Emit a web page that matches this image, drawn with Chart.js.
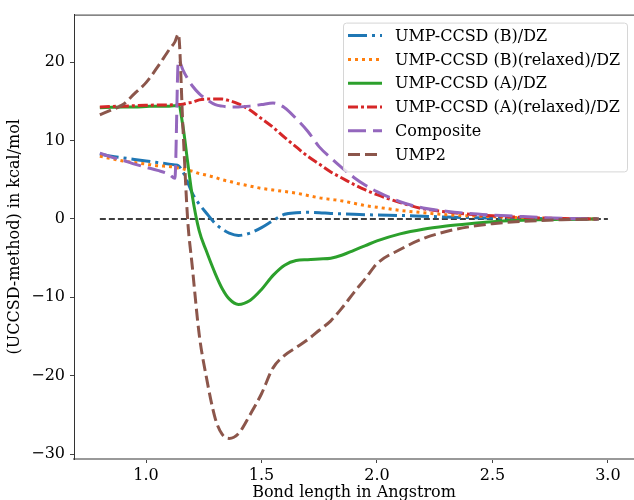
<!DOCTYPE html>
<html>
<head>
<meta charset="utf-8">
<script src="https://cdn.jsdelivr.net/npm/chart.js@4/dist/chart.umd.min.js"></script>
<style>
  body { margin: 0; background: #fff; }
  #wrap { width: 634px; height: 500px; }
</style>
</head>
<body>
<div id="wrap"><canvas id="chart" width="634" height="500"></canvas></div>
<script>
// bond lengths (Angstrom) shared by all curves
const bondLength = [0.80, 0.85, 0.90, 0.95, 1.00, 1.05, 1.10, 1.125, 1.14, 1.16, 1.18, 1.20,
    1.23, 1.26, 1.30, 1.33, 1.36, 1.40, 1.45, 1.50, 1.55, 1.60, 1.65, 1.70, 1.75, 1.80,
    1.85, 1.90, 1.95, 2.00, 2.10, 2.20, 2.30, 2.40, 2.50, 2.60, 2.70, 2.80, 2.90, 2.96];

// (UCCSD - method) in kcal/mol
const ccsdB = [8.3, 8.0, 7.8, 7.6, 7.4, 7.2, 7.0, 6.9, 6.8, 6.0, 4.7, 3.3,
    1.9, 0.8, -0.6, -1.3, -1.8, -2.1, -1.8, -1.1, -0.2, 0.6, 0.8, 0.85, 0.8, 0.7,
    0.65, 0.6, 0.55, 0.5, 0.45, 0.35, 0.25, 0.18, 0.12, 0.08, 0.05, 0.02, 0.0, 0.0];
const ccsdBRelaxed = [8.0, 7.7, 7.4, 7.2, 7.0, 6.8, 6.7, 6.6, 6.5, 6.4, 6.2, 6.1,
    5.8, 5.6, 5.3, 5.0, 4.8, 4.5, 4.2, 3.9, 3.7, 3.5, 3.3, 3.0, 2.7, 2.5,
    2.3, 2.0, 1.7, 1.5, 1.1, 0.8, 0.55, 0.4, 0.3, 0.2, 0.12, 0.06, 0.02, 0.0];
const ccsdA = [14.2, 14.25, 14.3, 14.3, 14.35, 14.4, 14.4, 14.45, 14.5, 11.8, 7.3, 3.0,
    -1.5, -4.0, -7.0, -8.9, -10.2, -10.9, -10.4, -9.0, -7.2, -5.9, -5.3, -5.2, -5.1, -5.0,
    -4.6, -4.0, -3.4, -2.8, -1.9, -1.3, -0.9, -0.6, -0.35, -0.2, -0.1, -0.05, 0.0, 0.0];
const ccsdARelaxed = [14.3, 14.35, 14.4, 14.45, 14.5, 14.55, 14.55, 14.6, 14.6, 14.65, 14.8, 14.9,
    15.2, 15.3, 15.3, 15.3, 15.1, 14.7, 13.9, 12.8, 11.7, 10.4, 9.2, 8.0, 7.0, 6.0,
    5.2, 4.4, 3.7, 3.1, 2.1, 1.3, 0.9, 0.6, 0.4, 0.25, 0.12, 0.05, 0.02, 0.0];
const composite = [8.4, 7.9, 7.5, 7.0, 6.6, 6.2, 5.7, 5.2, 20.3, 19.0, 17.9, 17.0,
    16.0, 15.3, 14.6, 14.4, 14.3, 14.3, 14.4, 14.6, 14.8, 14.2, 12.8, 11.2, 9.2, 7.8,
    6.5, 5.3, 4.3, 3.5, 2.2, 1.4, 1.0, 0.7, 0.5, 0.35, 0.2, 0.1, 0.03, 0.0];
const ump2 = [13.3, 13.9, 14.6, 16.0, 17.4, 19.4, 21.6, 22.6, 23.6, 11.5, 0.0, -6.0,
    -14.7, -20.0, -25.5, -27.5, -28.0, -27.4, -25.0, -22.3, -19.0, -17.4, -16.4, -15.4, -14.2, -13.0,
    -11.3, -9.4, -7.6, -5.7, -3.9, -2.5, -1.6, -1.0, -0.6, -0.35, -0.2, -0.1, -0.03, 0.0];

// reference line at zero
const zeroX = [0.8, 3.0];
const zeroY = [0, 0];

const toPts = (xs, ys) => xs.map((x, i) => ({x: x, y: ys[i]}));
const serif = "'DejaVu Serif', 'Liberation Serif', serif";

const line = (label, ys, color, dash, order) => ({
    label: label,
    data: toPts(bondLength, ys),
    borderColor: color,
    backgroundColor: color,
    borderWidth: 3,
    borderDash: dash,
    pointRadius: 0,
    fill: false,
    cubicInterpolationMode: 'monotone',
    order: order
});

// matplotlib style: top spine + legend drawn inside the axes
const topSpine = {
    id: 'topSpine',
    afterDraw(chart) {
        const {ctx, chartArea} = chart;
        ctx.save();
        ctx.strokeStyle = '#333';
        ctx.lineWidth = 1;
        ctx.beginPath();
        ctx.moveTo(chartArea.left, chartArea.top + 0.5);
        ctx.lineTo(chartArea.right, chartArea.top + 0.5);
        ctx.stroke();
        ctx.restore();
    }
};

const boxLegend = {
    id: 'boxLegend',
    afterDraw(chart) {
        const {ctx, chartArea} = chart;
        const items = chart.data.datasets.filter(d => d.label);
        const right = chartArea.right - 7, top = chartArea.top + 8;
        const w = 284, rowH = 23.8, h = items.length * rowH + 6;
        const left = right - w;
        ctx.save();
        ctx.fillStyle = 'rgba(255,255,255,0.8)';
        ctx.strokeStyle = '#d6d6d6';
        ctx.lineWidth = 1;
        ctx.beginPath();
        ctx.roundRect(left + 0.5, top + 0.5, w, h, 3);
        ctx.fill();
        ctx.stroke();
        ctx.font = '16px ' + serif;
        ctx.textBaseline = 'middle';
        items.forEach((d, i) => {
            const y = top + 13 + i * rowH;
            ctx.strokeStyle = d.borderColor;
            ctx.lineWidth = d.borderWidth;
            ctx.setLineDash(d.borderDash || []);
            ctx.beginPath();
            ctx.moveTo(left + 5, y);
            ctx.lineTo(left + 39, y);
            ctx.stroke();
            ctx.setLineDash([]);
            ctx.fillStyle = '#000';
            ctx.fillText(d.label, left + 52, y + 1);
        });
        ctx.restore();
    }
};

const ctx = document.getElementById('chart').getContext('2d');
const chart = new Chart(ctx, {
    type: 'line',
    data: {
        datasets: [
            line('UMP-CCSD (B)/DZ', ccsdB, '#1f77b4', [19, 5, 3, 5], 6),
            line('UMP-CCSD (B)(relaxed)/DZ', ccsdBRelaxed, '#ff7f0e', [3, 4], 5),
            line('UMP-CCSD (A)/DZ', ccsdA, '#2ca02c', [], 4),
            line('UMP-CCSD (A)(relaxed)/DZ', ccsdARelaxed, '#d62728', [10, 3, 3, 3], 3),
            line('Composite', composite, '#9467bd', [18, 7], 2),
            line('UMP2', ump2, '#8c564b', [12, 5], 1),
            {
                label: '',
                data: toPts(zeroX, zeroY),
                borderColor: '#000',
                borderWidth: 1.5,
                borderDash: [6, 3],
                pointRadius: 0,
                order: 7
            }
        ]
    },
    options: {
        responsive: false,
        animation: false,
        devicePixelRatio: 1,
        layout: { padding: { top: 11, right: 0, left: 0, bottom: 0 } },
        plugins: {
            legend: { display: false },
            tooltip: { enabled: false }
        },
        scales: {
            x: {
                type: 'linear',
                min: 0.688,
                max: 3.113,
                afterFit: s => { s.height = 41; },
                ticks: {
                    stepSize: 0.5,
                    includeBounds: false,
                    maxRotation: 0,
                    padding: 3,
                    color: '#000',
                    font: { family: serif, size: 16 },
                    callback: v => v.toFixed(1)
                },
                grid: { drawOnChartArea: false, drawTicks: true, tickLength: 4, color: '#444' },
                border: { color: '#999', width: 2 },
                title: {
                    display: true,
                    text: 'Bond length in Angstrom',
                    color: '#000',
                    font: { family: serif, size: 16 },
                    padding: { top: 0, bottom: -2 }
                }
            },
            y: {
                min: -30.63,
                max: 26.08,
                afterFit: s => { s.width = 74; },
                ticks: {
                    stepSize: 10,
                    includeBounds: false,
                    padding: 5,
                    color: '#000',
                    font: { family: serif, size: 16 },
                    callback: v => v < 0 ? '\u2212' + Math.abs(v) : String(v)
                },
                grid: { drawOnChartArea: false, drawTicks: true, tickLength: 4, color: '#444' },
                border: { color: '#333', width: 1 },
                title: {
                    display: true,
                    text: '(UCCSD-method) in kcal/mol',
                    color: '#000',
                    font: { family: serif, size: 16 },
                    padding: { top: 5, bottom: 0 }
                }
            }
        }
    },
    plugins: [topSpine, boxLegend]
});
</script>
</body>
</html>
